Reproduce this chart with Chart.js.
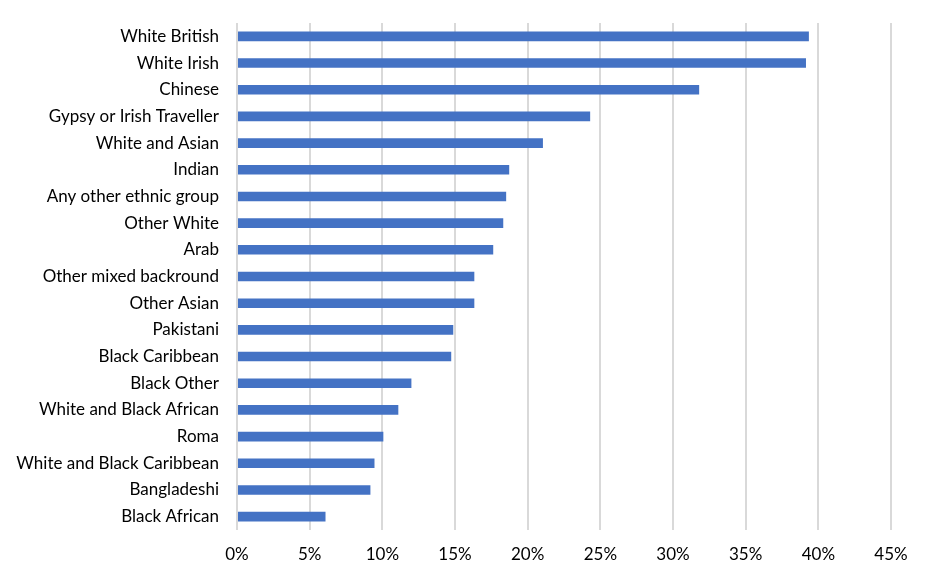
<!DOCTYPE html>
<html>
<head>
<meta charset="utf-8">
<script src="https://cdn.jsdelivr.net/npm/chart.js@4"></script>
<style>
html,body{margin:0;padding:0;background:#fff;}
#wrap{width:930px;height:579px;}
</style>
</head>
<body>
<div id="wrap"><canvas id="c" width="930" height="579"></canvas></div>
<script>
const categories = ["White British","White Irish","Chinese","Gypsy or Irish Traveller","White and Asian","Indian","Any other ethnic group","Other White","Arab","Other mixed backround","Other Asian","Pakistani","Black Caribbean","Black Other","White and Black African","Roma","White and Black Caribbean","Bangladeshi","Black African"];
const values = [39.35,39.15,31.8,24.3,21.05,18.73,18.52,18.32,17.63,16.33,16.33,14.88,14.74,12.0,11.1,10.07,9.46,9.18,6.09];
const tickValues = [0,5,10,15,20,25,30,35,40,45];

new Chart(document.getElementById('c'), {
  type: 'bar',
  data: {
    labels: categories,
    datasets: [{
      data: values,
      backgroundColor: '#4472C4',
      borderWidth: 0,
      categoryPercentage: 1,
      barPercentage: 0.36
    }]
  },
  options: {
    indexAxis: 'y',
    responsive: false,
    animation: false,
    devicePixelRatio: 1,
    layout: { padding: { top: 23, right: 39, bottom: 0, left: 0 } },
    plugins: { legend: { display: false }, tooltip: { enabled: false } },
    scales: {
      x: {
        min: 0, max: 45,
        afterBuildTicks: (axis) => { axis.ticks = tickValues.map(v => ({ value: v })); },
        afterFit: (axis) => { axis.height = 49; axis.paddingLeft = 0; axis.paddingRight = 0; },
        grid: { color: '#d9d9d9', lineWidth: 2, tickLength: 0, drawTicks: false },
        border: { display: false },
        ticks: {
          padding: 14,
          color: '#000',
          font: { family: 'Lato', size: 17 },
          callback: (v) => v + '%'
        }
      },
      y: {
        afterFit: (axis) => { axis.width = 237; axis.paddingTop = 0; axis.paddingBottom = 0; },
        grid: { display: false },
        border: { display: false },
        ticks: {
          padding: 10,
          color: '#000',
          autoSkip: false,
          font: { family: 'Lato', size: 17 }
        }
      }
    }
  }
});
</script>
</body>
</html>
